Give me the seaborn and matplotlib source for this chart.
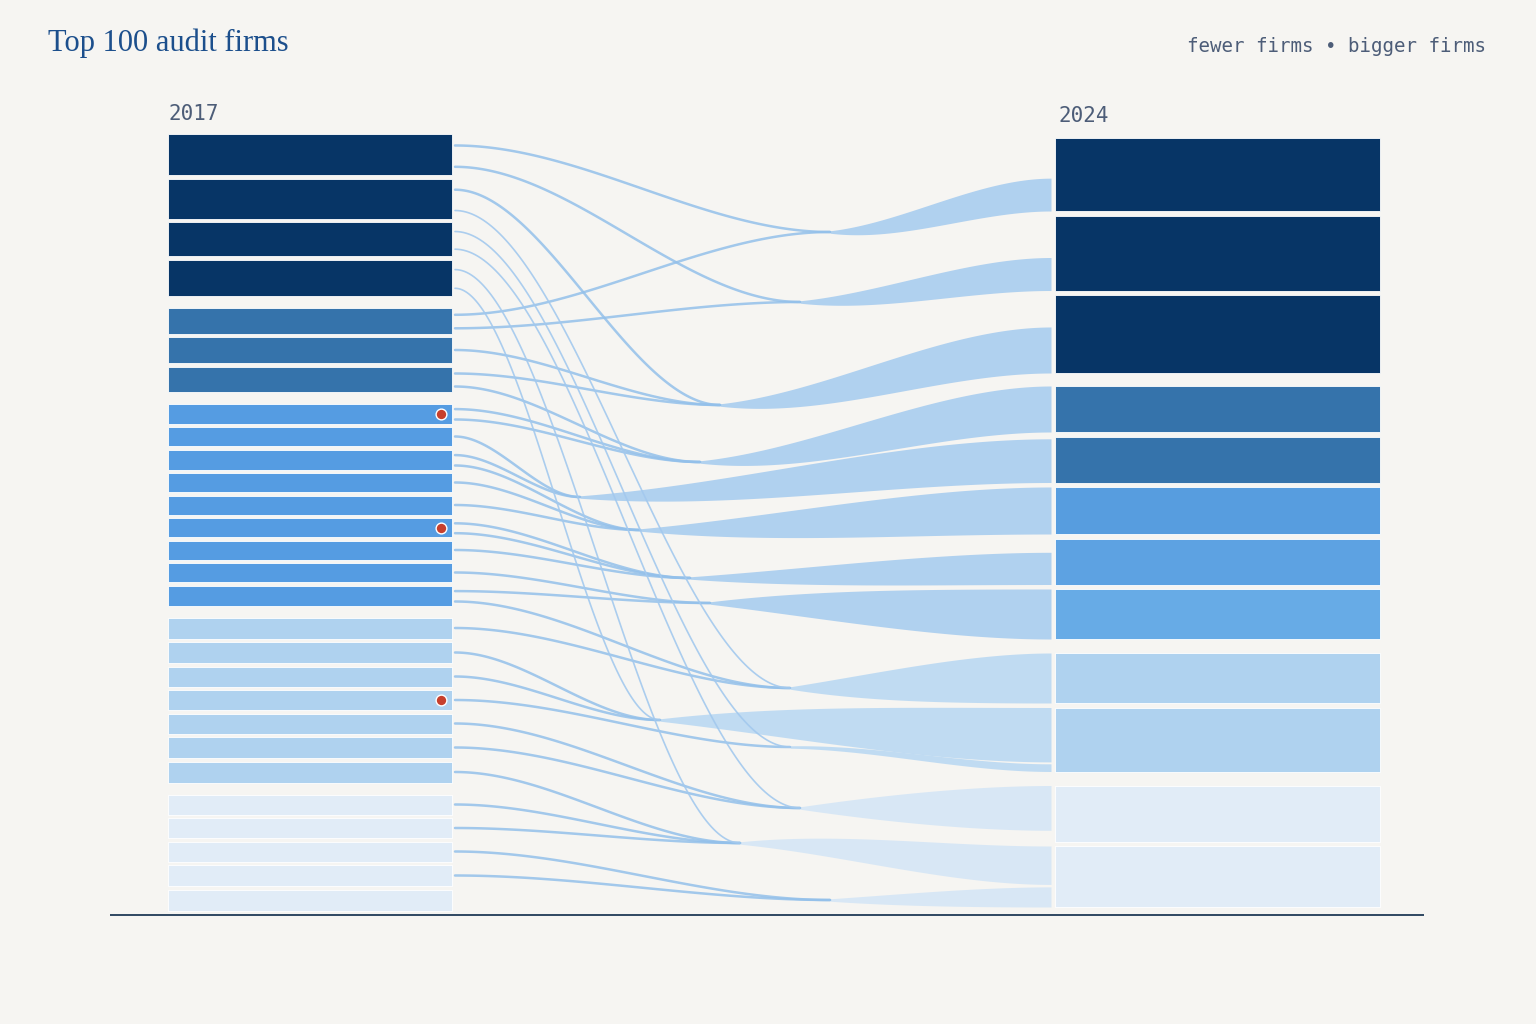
import numpy as np
import pandas as pd
import matplotlib
matplotlib.use("Agg")
import matplotlib.pyplot as plt
import seaborn as sns

# --- data -------------------------------------------------------------
# firm sizes per tier (top to bottom), 2017 column
sizes_2017 = [
    [41, 40, 34, 36],
    [26, 26, 25],
    [20, 19, 20, 19, 19, 19, 19, 19, 20],
    [21, 21, 20, 20, 20, 21, 21],
    [20, 20, 20, 21, 21],
]
# firm sizes per tier, 2024 column
sizes_2024 = [
    [73, 75, 78],
    [46, 46],
    [47, 46, 50],
    [50, 64],
    [56, 61],
]
tier_colors = ["#073566", "#3573ab", "#559ce2", "#afd2ef", "#e1ecf7"]
right_tier3_colors = ["#579ddf", "#5da2e2", "#67abe6"]

# firms that disappeared (marked red) : index in 2017 list
flagged_2017 = [7, 12, 19]

# flows: 2017 firm index -> receiving band
flow_source = [0, 0, 1, 1, 2, 2, 3, 3, 4, 4, 5, 6, 6, 7, 7, 8, 9, 9, 10, 11,
               12, 12, 13, 14, 15, 15, 16, 17, 18, 19, 20, 21, 22, 23, 24, 25, 26]
flow_band = [0, 1, 2, 8, 10, 11, 12, 9, 0, 1, 2, 2, 3, 3, 3, 4, 4, 5, 5, 5,
             6, 6, 6, 7, 7, 8, 8, 9, 9, 10, 11, 11, 12, 12, 12, 13, 13]

# bands: 2024 firm index, share of that firm's bar covered (from, to)
band_target = [0, 1, 2, 3, 4, 5, 6, 7, 8, 9, 9, 10, 11, 11]
band_from = [0.55, 0.56, 0.41, 0.0, 0.05, 0.0, 0.30, 0.0, 0.0, 0.0, 0.88, 0.0, 0.0, 0.67]
band_to = [1.0, 1.0, 1.0, 1.0, 1.0, 1.0, 1.0, 1.0, 1.0, 0.85, 1.0, 0.80, 0.63, 1.0]

# --- layout -----------------------------------------------------------
BG = "#f6f5f2"
L_X0, L_X1 = 168, 452
R_X0, R_X1 = 1055, 1380
# where the thin lines gather before widening into a band
merge_x = [830, 800, 720, 700, 580, 640, 690, 710, 790, 660, 790, 800, 740, 830]
merge_y = [232, 302, 405, 462, 497, 530, 578, 603, 688, 720, 747, 808, 843, 900]


def stack(groups, top, gap, tier_gaps):
    rows = []
    y = top
    for t, grp in enumerate(groups):
        for k, h in enumerate(grp):
            rows.append((t, y, h))
            if k < len(grp) - 1:
                y += h + gap
            elif t < len(tier_gaps):
                y += h + tier_gaps[t]
    return pd.DataFrame(rows, columns=["tier", "y", "h"])


left = stack(sizes_2017, 134, 3.5, [12, 12, 12, 12])
right = stack(sizes_2024, 138, 4.5, [13, 4.5, 14, 14])


def smooth(u):
    return u * u * (3 - 2 * u)


sns.set_theme(style="white")
fig = plt.figure(figsize=(15.36, 10.24), dpi=100, facecolor=BG)
ax = fig.add_axes([0, 0, 1, 1])
ax.set_facecolor(BG)

# bands
band_cols = ["#a9cdef"] * 8 + ["#bbd9f2"] * 3 + ["#d5e6f6"] * 3
for b in range(len(band_target)):
    r = right.iloc[band_target[b]]
    top = r.y + band_from[b] * r.h
    bot = r.y + band_to[b] * r.h
    xs = np.linspace(merge_x[b], R_X0 - 4, 120)
    u = (xs - xs[0]) / (xs[-1] - xs[0])
    s = smooth(u)
    w = np.sqrt(smooth(u))
    y0 = merge_y[b]
    c = y0 + ((top + bot) / 2 - y0) * s
    half = 1.2 + ((bot - top) / 2 - 1.2) * w
    ax.fill_between(xs, c - half, c + half, color=band_cols[b], alpha=0.9, lw=0, zorder=2)

# thin lines from each 2017 firm
counts = pd.Series(flow_source).value_counts()
seen = {}
rows = []
for i, (src, b) in enumerate(zip(flow_source, flow_band)):
    r = left.iloc[src]
    k = seen.get(src, 0)
    seen[src] = k + 1
    frac = 0.5 if counts[src] == 1 else [0.28, 0.8][k]
    y0 = r.y + frac * r.h
    xs = np.linspace(L_X1 + 3, merge_x[b], 120)
    s = smooth((xs - xs[0]) / (xs[-1] - xs[0]))
    ys = y0 + (merge_y[b] - y0) * s
    steep = abs(merge_y[b] - y0) > 250
    for x, y in zip(xs, ys):
        rows.append((i, x, y, steep))
lines = pd.DataFrame(rows, columns=["flow", "x", "y", "steep"])
sns.lineplot(data=lines[~lines.steep], x="x", y="y", units="flow", estimator=None,
             sort=False, color="#93c0ea", lw=1.8, alpha=0.85, legend=False, ax=ax, zorder=3)
sns.lineplot(data=lines[lines.steep], x="x", y="y", units="flow", estimator=None,
             sort=False, color="#a3c9ee", lw=1.2, alpha=0.9, legend=False, ax=ax, zorder=3)

# bars
ax.barh(left.y + left.h / 2, L_X1 - L_X0, height=left.h, left=L_X0,
        color=[tier_colors[t] for t in left.tier], edgecolor="white", lw=0.6, zorder=4)
rcols = []
k3 = 0
for t in right.tier:
    if t == 2:
        rcols.append(right_tier3_colors[k3])
        k3 += 1
    else:
        rcols.append(tier_colors[t])
ax.barh(right.y + right.h / 2, R_X1 - R_X0, height=right.h, left=R_X0,
        color=rcols, edgecolor="white", lw=0.6, zorder=4)

# flagged firms
fl = left.iloc[flagged_2017]
ax.scatter([L_X1 - 11] * len(fl), fl.y + fl.h / 2, s=60, color="#c7402d",
           edgecolor="white", lw=1.0, zorder=5)

# baseline
ax.hlines(915, 110, 1424, color="#2f4862", lw=1.4, zorder=5)

# text
ax.text(48, 43, "Top 100 audit firms", fontsize=22, color="#1c4f8c",
        family="Liberation Serif", va="center", ha="left")
ax.text(1486, 47, "fewer firms \u2022 bigger firms", fontsize=13.8, color="#4d5d78",
        family="DejaVu Sans Mono", va="center", ha="right")
ax.text(L_X0, 114, "2017", fontsize=15, color="#4d5d78", family="DejaVu Sans Mono",
        va="center", ha="left")
ax.text(R_X0 + 4, 116, "2024", fontsize=15, color="#4d5d78", family="DejaVu Sans Mono",
        va="center", ha="left")

ax.set_xlim(0, 1536)
ax.set_ylim(1024, 0)
ax.axis("off")

fig.savefig("out.png", dpi=100, facecolor=BG)
